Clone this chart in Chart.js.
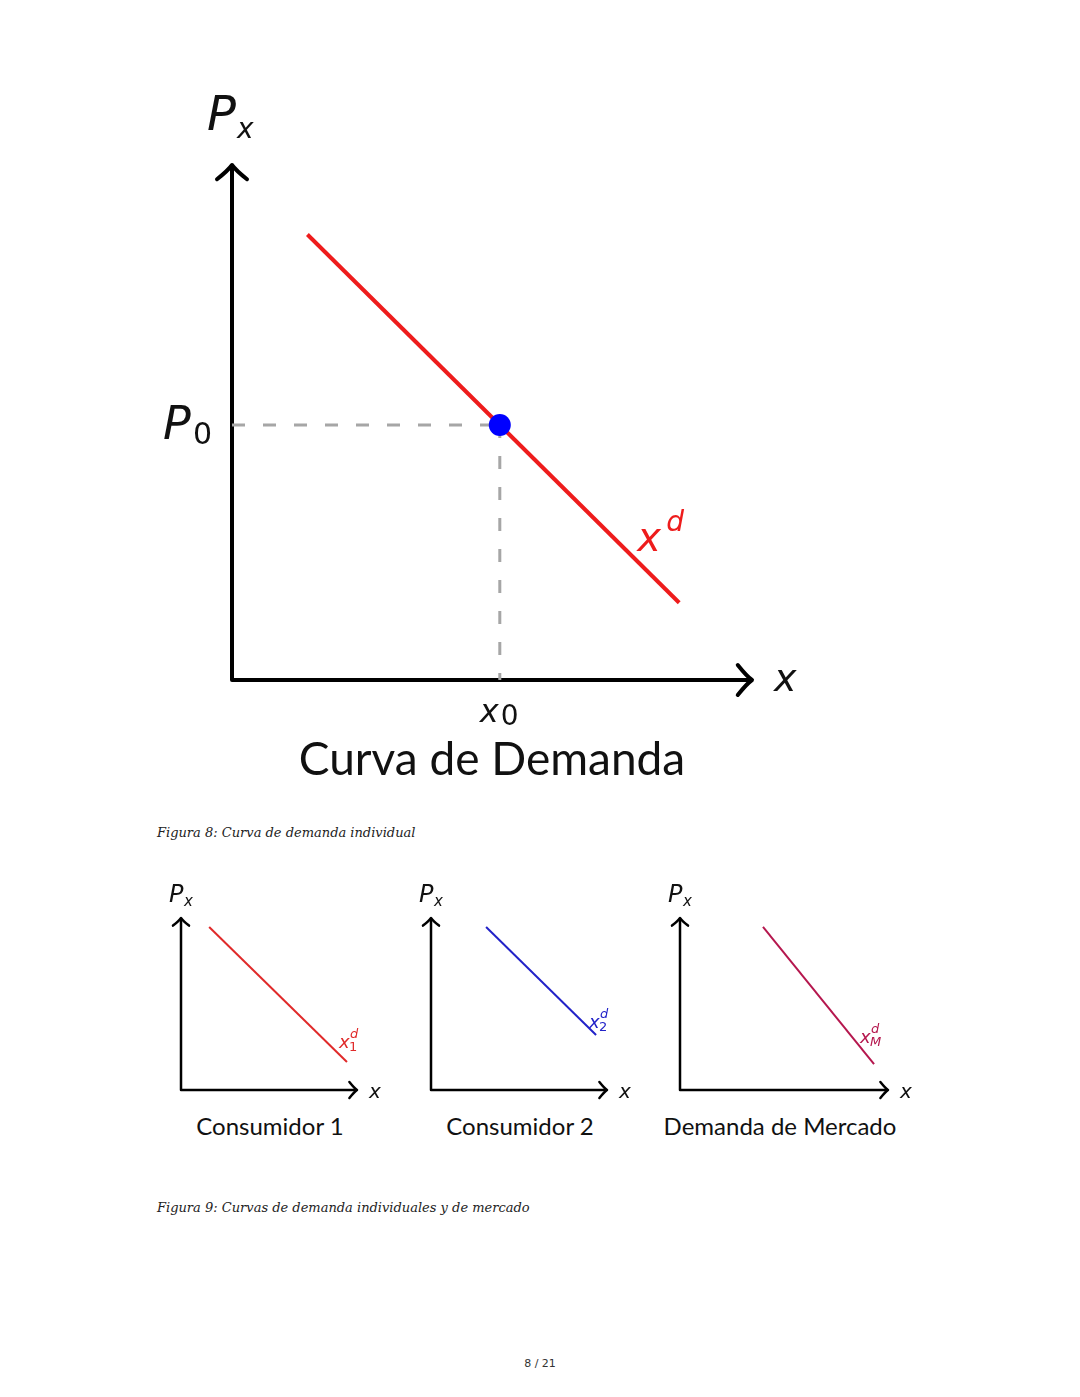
<!DOCTYPE html>
<html>
<head>
<meta charset="utf-8">
<script src="https://cdn.jsdelivr.net/npm/chart.js@4.4.1/dist/chart.umd.min.js"></script>
<style>
body{margin:0;background:#fff;width:1080px;height:1397px;position:relative;overflow:hidden}
.box{position:absolute}
.ttl{position:absolute;font-family:"Lato";color:#111;white-space:nowrap;text-align:center;line-height:1}
.cap{position:absolute;font-family:"DejaVu Serif";font-style:italic;font-size:13px;color:#222;white-space:nowrap;line-height:1}
.pg{position:absolute;left:490px;width:100px;top:1357px;text-align:center;font-family:"DejaVu Sans";font-size:11px;color:#333}
</style>
</head>
<body>

<div class="box" style="left:140px;top:80px;width:700px;height:660px"><canvas id="main"></canvas></div>
<div class="ttl" style="left:242px;width:500px;top:735px;font-size:46px">Curva de Demanda</div>
<div class="cap" style="left:157px;top:826px">Figura 8: Curva de demanda individual</div>

<div class="box" style="left:150px;top:870px;width:250px;height:240px"><canvas id="c1"></canvas></div>
<div class="box" style="left:400px;top:870px;width:250px;height:240px"><canvas id="c2"></canvas></div>
<div class="box" style="left:650px;top:870px;width:280px;height:240px"><canvas id="c3"></canvas></div>
<div class="ttl" style="left:170px;width:200px;top:1114px;font-size:24px">Consumidor 1</div>
<div class="ttl" style="left:420px;width:200px;top:1114px;font-size:24px">Consumidor 2</div>
<div class="ttl" style="left:630px;width:300px;top:1114px;font-size:24px">Demanda de Mercado</div>
<div class="cap" style="left:157px;top:1201px">Figura 9: Curvas de demanda individuales y de mercado</div>

<div class="pg">8 / 21</div>

<script>
// ===== data (axis units 0..10) =====
const demandX=[1.45,8.6]
const demandY=[8.65,1.5]
const eqX=[5.15]
const eqY=[4.95]

const cons1X=[1.6,9.43]
const cons1Y=[9.48,1.63]
const cons2X=[3.13,9.38]
const cons2Y=[9.48,3.2]
const marketX=[3.99,9.33]
const marketY=[9.48,1.51]

const pts=(xs,ys)=>xs.map((x,i)=>({x:x,y:ys[i]}))

const SANS='"DejaVu Sans"'

function txt(ctx,s,x,y,size,color,italic){
ctx.font=(italic?'italic ':'')+size+'px '+SANS
ctx.fillStyle=color
ctx.textBaseline='alphabetic'
ctx.textAlign='left'
ctx.fillText(s,x,y)
}

function drawAxes(ctx,a,lw,head){
ctx.save()
ctx.strokeStyle='#000'
ctx.lineWidth=lw
ctx.lineCap='round'
ctx.lineJoin='round'
ctx.beginPath()
ctx.moveTo(a.left,a.top+1)
ctx.lineTo(a.left,a.bottom)
ctx.lineTo(a.right-1,a.bottom)
ctx.stroke()
// up arrow
ctx.beginPath()
ctx.moveTo(a.left-head,a.top+head*0.95)
ctx.quadraticCurveTo(a.left-head*0.25,a.top+head*0.35,a.left,a.top)
ctx.quadraticCurveTo(a.left+head*0.25,a.top+head*0.35,a.left+head,a.top+head*0.95)
ctx.stroke()
// right arrow
ctx.beginPath()
ctx.moveTo(a.right-head*0.95,a.bottom-head)
ctx.quadraticCurveTo(a.right-head*0.35,a.bottom-head*0.25,a.right,a.bottom)
ctx.quadraticCurveTo(a.right-head*0.35,a.bottom+head*0.25,a.right-head*0.95,a.bottom+head)
ctx.stroke()
ctx.restore()
}

// axes + labels, drawn under the datasets
const axesPlugin={
id:'axesPlugin',
beforeDatasetsDraw(chart,args,opts){
const ctx=chart.ctx,a=chart.chartArea
drawAxes(ctx,a,opts.lw,opts.head)
if(opts.draw) opts.draw(ctx,a,chart.scales.x,chart.scales.y)
}
}

function baseOptions(pad,plug){
return {
responsive:true,
maintainAspectRatio:false,
animation:false,
layout:{padding:pad},
plugins:{legend:{display:false},tooltip:{enabled:false},axesPlugin:plug},
scales:{
x:{type:'linear',min:0,max:10,display:false},
y:{type:'linear',min:0,max:10,display:false}
},
elements:{point:{radius:0}}
}
}

// ===== main chart =====
new Chart(document.getElementById('main'),{
type:'scatter',
plugins:[axesPlugin],
data:{datasets:[
{data:pts(eqX,eqY),showLine:false,pointRadius:11,backgroundColor:'#0000ff',borderWidth:0,clip:false,order:0},
{data:pts(demandX,demandY),showLine:true,borderColor:'#ee1c1c',borderWidth:4,pointRadius:0,clip:false,order:1},
{data:[{x:0,y:eqY[0]},{x:eqX[0],y:eqY[0]}],showLine:true,borderColor:'#a6a6a6',borderWidth:3,borderDash:[13,18],pointRadius:0,clip:false,order:2},
{data:[{x:eqX[0],y:eqY[0]},{x:eqX[0],y:0}],showLine:true,borderColor:'#a6a6a6',borderWidth:3,borderDash:[13,18],pointRadius:0,clip:false,order:3}
]},
options:baseOptions({left:92,right:88,top:85,bottom:60},{
lw:4,head:15,
draw(ctx,a,sx,sy){
const ex=sx.getPixelForValue(eqX[0]),ey=sy.getPixelForValue(eqY[0])
txt(ctx,'P',a.left-25,a.top-35,48,'#111',true)
txt(ctx,'x',a.left+5,a.top-27,28,'#111',true)
txt(ctx,'P',a.left-69,ey+14,46,'#111',true)
txt(ctx,'0',a.left-39,ey+19,30,'#111',false)
txt(ctx,'x',ex-20,a.bottom+42,32,'#111',true)
txt(ctx,'0',ex+1,a.bottom+45,28,'#111',false)
txt(ctx,'x',a.right+22,a.bottom+11,38,'#111',true)
const lx=sx.getPixelForValue(demandX[1]),ly=sy.getPixelForValue(demandY[1])
txt(ctx,'x',lx-42,ly-52,40,'#ee1c1c',true)
txt(ctx,'d',lx-13,ly-72,28,'#ee1c1c',true)
}
})
})

// ===== small charts =====
function small(id,xs,ys,color,sub,pad,lab){
new Chart(document.getElementById(id),{
type:'scatter',
plugins:[axesPlugin],
data:{datasets:[
{data:pts(xs,ys),showLine:true,borderColor:color,borderWidth:2,pointRadius:0,clip:false}
]},
options:baseOptions(pad,{
lw:2.5,head:8,
draw(ctx,a,sx,sy){
txt(ctx,'P',a.left-12,a.top-16,24,'#111',true)
txt(ctx,'x',a.left+3,a.top-12,15,'#111',true)
txt(ctx,'x',a.right+12,a.bottom+8,20,'#111',true)
const ex=sx.getPixelForValue(xs[1]),ey=sy.getPixelForValue(ys[1])
txt(ctx,'x',ex+lab[0],ey+lab[1],18,color,true)
txt(ctx,sub,ex+lab[0]+10,ey+lab[1]+3,13,color,sub==='M')
txt(ctx,'d',ex+lab[0]+11,ey+lab[1]-10,13,color,true)
}
})
})
}

small('c1',cons1X,cons1Y,'#e02a2a','1',{left:31,right:43,top:48,bottom:20},[-8,-14])
small('c2',cons2X,cons2Y,'#2222c8','2',{left:31,right:43,top:48,bottom:20},[-7,-7])
small('c3',marketX,marketY,'#b5174e','M',{left:30,right:42,top:48,bottom:20},[-14,-21])
</script>
</body>
</html>
